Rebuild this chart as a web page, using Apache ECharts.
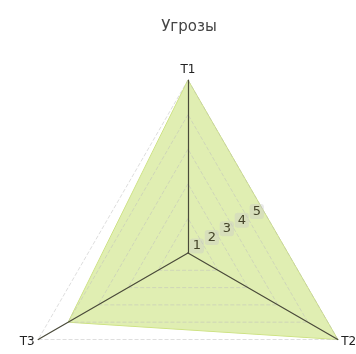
<!DOCTYPE html>
<html>
<head>
<meta charset="utf-8">
<script src="https://cdn.jsdelivr.net/npm/echarts@6/dist/echarts.min.js"></script>
<style>
  html, body { margin: 0; padding: 0; background: #fff; }
  #chart { width: 356px; height: 354px; }
</style>
</head>
<body>
<div id="chart"></div>
<script>
const indicators = ['T1', 'T2', 'T3'];
const threatValues = [5, 5, 4];
const maxValue = 5;
const tickLabels = ['1', '2', '3', '4', '5'];

// echarts lays radar axes out counter-clockwise, the picture goes clockwise
const order = [0, 2, 1];

const chart = echarts.init(document.getElementById('chart'));

const option = {
  animation: false,
  title: {
    text: 'Угрозы',
    left: 184,
    top: 15,
    textAlign: 'center',
    textStyle: { fontFamily: 'DejaVu Sans', fontSize: 15, fontWeight: 'normal', color: '#444' }
  },
  radar: {
    z: 3,
    center: [188, 253],
    radius: 173,
    startAngle: 90,
    shape: 'polygon',
    splitNumber: 5,
    indicator: order.map(i => ({ name: indicators[i], max: maxValue, min: 0 })),
    axisName: { color: '#222', fontFamily: 'DejaVu Sans', fontSize: 12 },
    nameGap: 4,
    axisLine: { lineStyle: { color: '#4a4a3a', width: 1.2 } },
    splitLine: { lineStyle: { color: 'rgba(190,190,190,0.5)', type: 'dashed', width: 1 } },
    splitArea: { show: false },
    axisTick: { show: false },
    axisLabel: { show: false }
  },
  // tick labels sit on the bisector between T1 and T2, at the split-line edge midpoints
  polar: {
    center: [188, 253],
    radius: 173 * Math.cos(Math.PI / 3)
  },
  angleAxis: {
    startAngle: 30,
    show: false,
    min: 0,
    max: 360
  },
  radiusAxis: {
    z: 4,
    min: 0,
    max: maxValue,
    interval: 1,
    axisLine: { show: false },
    axisTick: { show: false },
    splitLine: { show: false },
    axisLabel: {
      margin: -2,
      showMinLabel: false,
      color: '#45452a',
      fontFamily: 'DejaVu Sans',
      fontSize: 13,
      backgroundColor: 'rgba(200,200,200,0.4)',
      borderRadius: 3,
      padding: [1, 3],
      formatter: v => tickLabels[v - 1] || ''
    }
  },
  series: [{
    type: 'radar',
    z: 2,
    symbol: 'none',
    lineStyle: { color: '#c9df78', width: 1 },
    areaStyle: { color: '#d5e898', opacity: 0.75 },
    data: [{ value: order.map(i => threatValues[i]), name: 'Угрозы' }]
  }]
};

chart.setOption(option);
</script>
</body>
</html>
